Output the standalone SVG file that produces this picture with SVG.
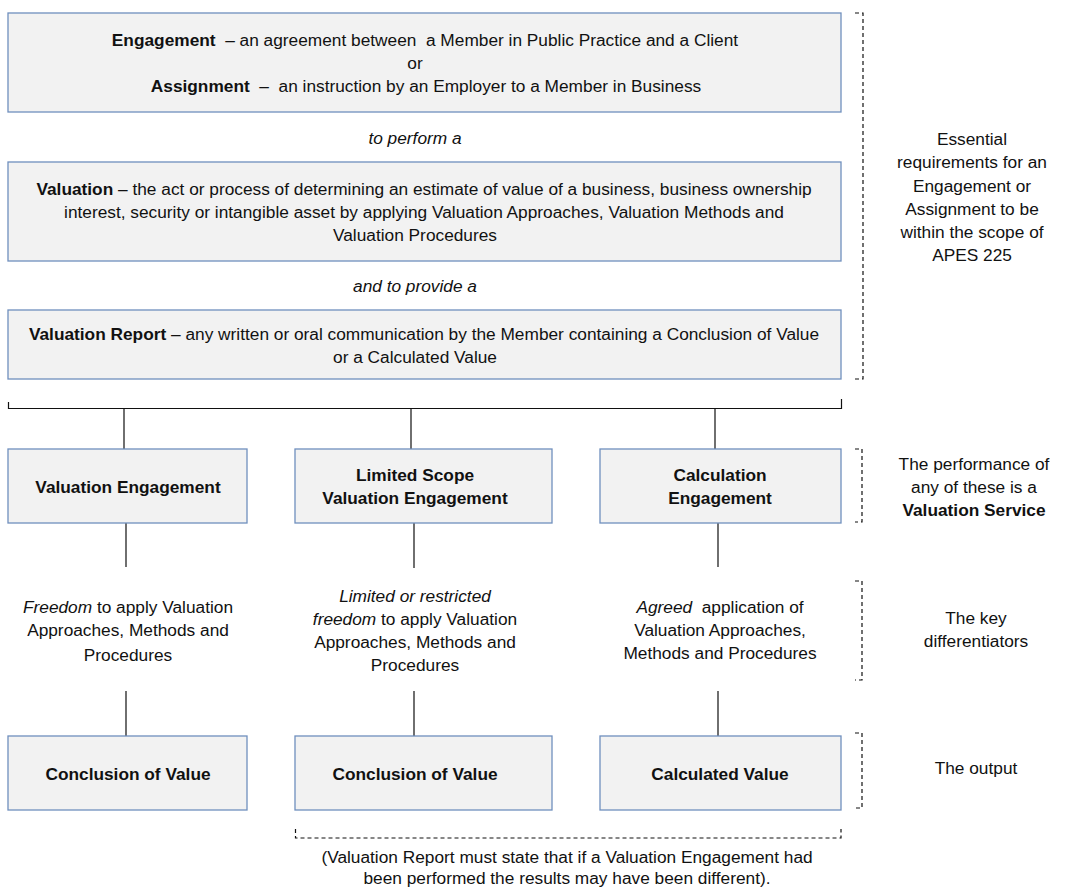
<svg xmlns="http://www.w3.org/2000/svg" width="1066" height="888" viewBox="0 0 1066 888">
<style>
text{font-family:"Liberation Sans",Arial,sans-serif;font-size:17.3px;fill:#111;text-anchor:middle}
.b{font-weight:bold}
.i{font-style:italic}
.box{fill:#f2f2f2;stroke:#6f8fbd;stroke-width:1.3}
.ln{stroke:#111;stroke-width:1.2;fill:none}
.br{stroke:#111;stroke-width:1.2;fill:none;stroke-dasharray:4 3}
</style>
<rect width="1066" height="888" fill="#fff"/>
<g id="engagement">
<rect class="box" x="8" y="13" width="833" height="99"/>
<text xml:space="preserve" x="425" y="46"><tspan class="b">Engagement</tspan>  – an agreement between  a Member in Public Practice and a Client</text>
<text x="415" y="69">or</text>
<text xml:space="preserve" x="426" y="92"><tspan class="b">Assignment</tspan>  –  an instruction by an Employer to a Member in Business</text>
</g>
<text class="i" x="415" y="144">to perform a</text>
<g id="valuation">
<rect class="box" x="8" y="162" width="833" height="99"/>
<text x="424" y="195"><tspan class="b">Valuation</tspan> – the act or process of determining an estimate of value of a business, business ownership</text>
<text x="424" y="218">interest, security or intangible asset by applying Valuation Approaches, Valuation Methods and</text>
<text x="415" y="241">Valuation Procedures</text>
</g>
<text class="i" x="415" y="292">and to provide a</text>
<g id="report">
<rect class="box" x="8" y="310" width="833" height="69"/>
<text x="424" y="340"><tspan class="b">Valuation Report</tspan> – any written or oral communication by the Member containing a Conclusion of Value</text>
<text x="415" y="363">or a Calculated Value</text>
</g>
<g id="connectors">
<path class="ln" d="M8.5 402 V408.5 H841.5 V399"/>
<path class="ln" d="M124 408 V449 M411 408 V449 M715 408 V449"/>
<path class="ln" d="M126 523 V567 M414 523 V568 M718 523 V567"/>
<path class="ln" d="M126 691 V736 M414 691 V736 M718 691 V736"/>
</g>
<g id="valuation-engagement">
<rect class="box" x="8" y="449" width="239" height="74"/>
<text class="b" x="128" y="493">Valuation Engagement</text>
</g>
<g id="limited-scope">
<rect class="box" x="295" y="449" width="257" height="74"/>
<text class="b" x="415" y="481">Limited Scope</text>
<text class="b" x="415" y="504">Valuation Engagement</text>
</g>
<g id="calculation-engagement">
<rect class="box" x="600" y="449" width="241" height="74"/>
<text class="b" x="720" y="481">Calculation</text>
<text class="b" x="720" y="504">Engagement</text>
</g>
<g id="diff-freedom">
<text x="128" y="613"><tspan class="i">Freedom</tspan> to apply Valuation</text>
<text x="128" y="636">Approaches, Methods and</text>
<text x="128" y="661">Procedures</text>
</g>
<g id="diff-limited">
<text class="i" x="415" y="602">Limited or restricted</text>
<text x="415" y="625"><tspan class="i">freedom</tspan> to apply Valuation</text>
<text x="415" y="648">Approaches, Methods and</text>
<text x="415" y="671">Procedures</text>
</g>
<g id="diff-agreed">
<text xml:space="preserve" x="720" y="613"><tspan class="i">Agreed</tspan>  application of</text>
<text x="720" y="636">Valuation Approaches,</text>
<text x="720" y="659">Methods and Procedures</text>
</g>
<g id="output-1">
<rect class="box" x="8" y="736" width="239" height="74"/>
<text class="b" x="128" y="780">Conclusion of Value</text>
</g>
<g id="output-2">
<rect class="box" x="295" y="736" width="257" height="74"/>
<text class="b" x="415" y="780">Conclusion of Value</text>
</g>
<g id="output-3">
<rect class="box" x="600" y="736" width="241" height="74"/>
<text class="b" x="720" y="780">Calculated Value</text>
</g>
<g id="brackets">
<path class="br" d="M855 13 H863 V379 H855"/>
<path class="br" d="M855 449 H862 V522 H855"/>
<path class="br" d="M855 581 H862 V680 H855"/>
<path class="br" d="M855 733 H862 V808 H855"/>
<path class="br" d="M295.5 829 V838 H841 V829"/>
</g>
<g id="side-labels">
<text x="972" y="145">Essential</text>
<text x="972" y="168">requirements for an</text>
<text x="972" y="192">Engagement or</text>
<text x="972" y="215">Assignment to be</text>
<text x="972" y="238">within the scope of</text>
<text x="972" y="261">APES 225</text>
<text x="974" y="470">The performance of</text>
<text x="974" y="493">any of these is a</text>
<text class="b" x="974" y="516">Valuation Service</text>
<text x="976" y="624">The key</text>
<text x="976" y="647">differentiators</text>
<text x="976" y="774">The output</text>
</g>
<g id="note">
<text x="567" y="863">(Valuation Report must state that if a Valuation Engagement had</text>
<text x="567" y="884">been performed the results may have been different).</text>
</g>
</svg>
